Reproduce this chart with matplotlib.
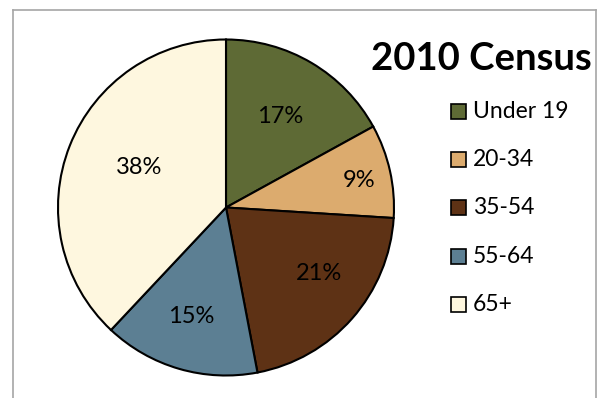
import matplotlib
matplotlib.use('Agg')
import numpy as np
import matplotlib.pyplot as plt
from matplotlib.patches import Rectangle
from matplotlib.lines import Line2D

groups = ['Under 19', '20-34', '35-54', '55-64', '65+']
shares = [17, 9, 21, 15, 38]
colors = ['#5e6a35', '#dcab6e', '#5e3215', '#5c7f93', '#fef7df']
title = '2010 Census'

# label placement (fraction of radius, angle nudge in degrees)
label_r = [0.63, 0.81, 0.68, 0.68, 0.57]
label_nudge = [0, -1, 6, -1.5, -3]

plt.rcParams['font.family'] = ['Lato', 'DejaVu Sans']

W, H = 600, 398
fig = plt.figure(figsize=(W / 100, H / 100), dpi=100)

# pie: centre (226, 207.5) px, radius 168 px
r = 168
cx, cy = 226, 207.5
pad = 1.05
ax = fig.add_axes([(cx - r * pad) / W, (H - cy - r * pad) / H, 2 * r * pad / W, 2 * r * pad / H])
wedges, texts = ax.pie(
    shares, colors=colors, startangle=90, counterclock=False,
    wedgeprops=dict(edgecolor='black', linewidth=1.5))
for w, s, lr, nd in zip(wedges, shares, label_r, label_nudge):
    ang = np.deg2rad((w.theta1 + w.theta2) / 2 + nd)
    ax.text(lr * np.cos(ang), lr * np.sin(ang), '%d%%' % s, fontsize=17,
            ha='center', va='center', color='black')
ax.set_xlim(-pad, pad)
ax.set_ylim(-pad, pad)
ax.set_aspect('equal')
ax.axis('off')

# chart frame (bottom edge is cut off)
fc = '#a6a6a6'
x0, x1, y0 = 13 / W, 596 / W, 1 - 10 / H
fig.add_artist(Line2D([x0, x0], [0, y0], color=fc, lw=1.2))
fig.add_artist(Line2D([x0, x1], [y0, y0], color=fc, lw=1.2))
fig.add_artist(Line2D([x1, x1], [0, y0], color=fc, lw=1.2))

fig.text(481.5 / W, 1 - 59 / H, title, fontsize=27.5, fontweight='bold',
         ha='center', va='center')

# legend
for i, (g, c) in enumerate(zip(groups, colors)):
    yc = 111.5 + i * 48.2
    fig.add_artist(Rectangle((451 / W, 1 - (yc + 7.5) / H), 15 / W, 15 / H,
                             facecolor=c, edgecolor='black', lw=1.2,
                             transform=fig.transFigure))
    fig.text(473 / W, 1 - yc / H, g, fontsize=16.5, ha='left', va='center')

fig.savefig('out.png', dpi=100)
